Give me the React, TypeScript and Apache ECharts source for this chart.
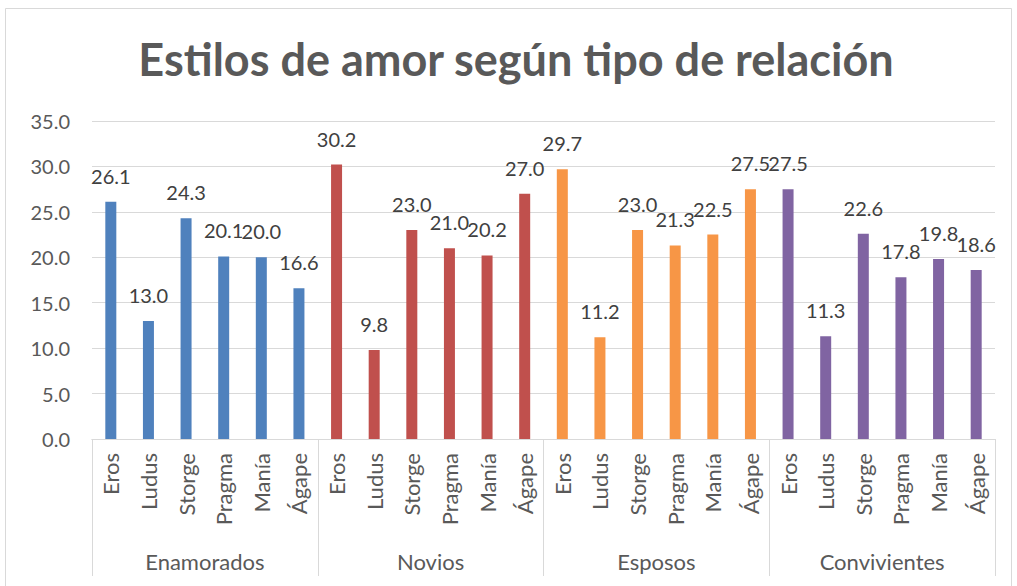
import React, { useEffect, useRef } from "react";
import * as echarts from "echarts";

const groups = ["Enamorados", "Novios", "Esposos", "Convivientes"];
const styles = ["Eros", "Ludus", "Storge", "Pragma", "Manía", "Ágape"];
const enamorados = [26.1, 13.0, 24.3, 20.1, 20.0, 16.6];
const novios = [30.2, 9.8, 23.0, 21.0, 20.2, 27.0];
const esposos = [29.7, 11.2, 23.0, 21.3, 22.5, 27.5];
const convivientes = [27.5, 11.3, 22.6, 17.8, 19.8, 18.6];
const groupColors = ["#4f81bd", "#c0504d", "#f79646", "#8064a2"];
const yTicks = [0, 5, 10, 15, 20, 25, 30, 35];

export default function App() {
  const ref = useRef<HTMLDivElement>(null);
  useEffect(() => {
    if (!ref.current) return;
    const chart = echarts.init(ref.current, undefined, { renderer: "svg" });
    const groupValues = [enamorados, novios, esposos, convivientes];
    const cats: string[] = [];
    const data: any[] = [];
    groupValues.forEach((vals, gi) => {
      vals.forEach((v, i) => {
        cats.push(styles[i]);
        data.push({ value: v, itemStyle: { color: groupColors[gi] } });
      });
    });
    const font = "Lato, 'Open Sans', sans-serif";
    chart.setOption({
      animation: false,
      textStyle: { fontFamily: font },
      title: {
        text: "Estilos de amor según tipo de relación",
        left: 511,
        textAlign: "center",
        top: 31,
        textStyle: { fontFamily: font, fontSize: 45, fontWeight: "bold", color: "#595959" },
      },
      graphic: [
        {
          type: "rect",
          shape: { x: 5.5, y: 8.5, width: 1006, height: 590 },
          style: { fill: "none", stroke: "#d9d9d9", lineWidth: 1 },
          silent: true,
        },
      ],
      grid: { left: 92, right: 22, top: 121, bottom: 147, containLabel: false },
      xAxis: [
        {
          type: "category",
          data: cats,
          position: "bottom",
          axisLine: { show: true, lineStyle: { color: "#d9d9d9", width: 1 } },
          axisTick: { show: false },
          axisLabel: {
            rotate: 90,
            interval: 0,
            fontSize: 22,
            color: "#595959",
            margin: 14,
            fontFamily: font,
          },
        },
        {
          type: "category",
          data: groups,
          position: "bottom",
          axisLine: { show: true, lineStyle: { color: "#d9d9d9", width: 1 } },
          axisTick: { show: true, length: 137, lineStyle: { color: "#d9d9d9", width: 1 } },
          axisLabel: { fontSize: 22, color: "#595959", margin: 111, fontFamily: font },
        },
      ],
      yAxis: {
        type: "value",
        min: yTicks[0],
        max: yTicks[yTicks.length - 1],
        interval: 5,
        axisLine: { show: false },
        axisTick: { show: false },
        splitLine: { lineStyle: { color: "#d9d9d9", width: 1 } },
        axisLabel: {
          fontSize: 20,
          color: "#595959",
          margin: 22,
          fontFamily: font,
          formatter: (v: number) => v.toFixed(1),
        },
      },
      series: [
        {
          type: "bar",
          xAxisIndex: 0,
          data,
          barWidth: 11,
          label: {
            show: true,
            position: "top",
            distance: 16,
            fontSize: 20,
            color: "#404040",
            fontFamily: font,
            formatter: (p: any) => Number(p.value).toFixed(1),
          },
        },
      ],
    });
    return () => chart.dispose();
  }, []);
  return (
    <div
      ref={ref}
      style={{ position: "fixed", left: 0, top: 0, width: 1017, height: 586, background: "#fff" }}
    />
  );
}
